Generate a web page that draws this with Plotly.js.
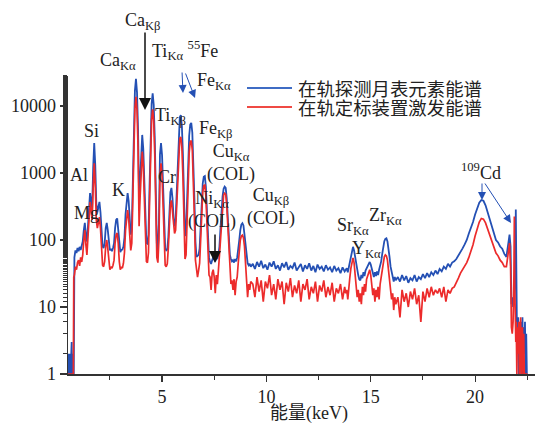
<!DOCTYPE html>
<html>
<head>
<meta charset="utf-8">
<script src="https://cdn.plot.ly/plotly-3.0.1.min.js"></script>
<style>html,body{margin:0;padding:0;background:#fff;overflow:hidden}#chart{width:535px;height:425px}</style>
</head>
<body>
<div id="chart"></div>
<script>
// ---- Energy channels (keV) ----
const energyStart = [0.49,0.51,0.53,0.55,0.57,0.59,0.61,0.63,0.65,0.67,0.69,0.71,0.73,0.75,0.77];
const energyLow = [
0.80,0.85,0.90,0.95,1.00,1.05,1.10,1.15,1.20,1.25,
1.30,1.35,1.40,1.45,1.50,1.55,1.60,1.65,1.70,1.75,
1.80,1.85,1.90,1.95,2.00,2.05,2.10,2.15,2.20,2.25,
2.30,2.35,2.40,2.45,2.50,2.55,2.60,2.65,2.70,2.75,
2.80,2.85,2.90,2.95,3.00,3.05,3.10,3.15,3.20,3.25,
3.30,3.35,3.40,3.45,3.50,3.55,3.60,3.65,3.70,3.75,
3.80,3.85,3.90,3.95,4.00,4.05,4.10,4.15,4.20,4.25,
4.30,4.35,4.40,4.45,4.50,4.55,4.60,4.65,4.70,4.75,
4.80,4.85,4.90,4.95,5.00,5.05,5.10,5.15,5.20,5.25,
5.30,5.35,5.40,5.45,5.50,5.55,5.60,5.65,5.70,5.75,
5.80,5.85,5.90,5.95,6.00,6.05,6.10,6.15,6.20,6.25,
6.30,6.35,6.40,6.45,6.50,6.55,6.60,6.65,6.70,6.75,
6.80,6.85,6.90,6.95,7.00,7.05,7.10,7.15,7.20,7.25,
7.30,7.35,7.40,7.45,7.50,7.55,7.60,7.65,7.70,7.75,
7.80,7.85,7.90,7.95,8.00,8.05,8.10,8.15,8.20,8.25,
8.30,8.35,8.40,8.45,8.50,8.55,8.60,8.65,8.70,8.75,
8.80,8.85,8.90,8.95,9.00,9.05,9.10,9.15,9.20,9.25];
const energyMid = [
9.35,9.45,9.55,9.65,9.75,9.85,9.95,10.05,10.15,10.25,
10.35,10.45,10.55,10.65,10.75,10.85,10.95,11.05,11.15,11.25,
11.35,11.45,11.55,11.65,11.75,11.85,11.95,12.05,12.15,12.25,
12.35,12.45,12.55,12.65,12.75,12.85,12.95,13.05,13.15,13.25,
13.35,13.45,13.55,13.65,13.75];
const energySrZr = [
13.80,13.85,13.90,13.95,14.00,14.05,14.10,14.15,14.20,14.25,
14.30,14.35,14.40,14.45,14.50,14.55,14.60,14.65,14.70,14.75,
14.80,14.85,14.90,14.95,15.00,15.05,15.10,15.15,15.20,15.25,
15.30,15.35,15.40,15.45,15.50,15.55,15.60,15.65,15.70,15.75,
15.80,15.85,15.90,15.95,16.00,16.05,16.10,16.15,16.20];
const energyHigh = [
16.3,16.4,16.5,16.6,16.7,16.8,16.9,17.0,17.1,17.2,
17.3,17.4,17.5,17.6,17.7,17.8,17.9,18.0,18.1,18.2,
18.3,18.4,18.5,18.6,18.7,18.8,18.9,19.0,19.1,19.2,
19.3,19.4,19.5,19.6,19.7,19.8,19.9,20.0,20.1,20.2,
20.3,20.4,20.5,20.6,20.7,20.8,20.9,21.0,21.1,21.2,
21.3,21.4,21.5];
const energyEnd = [21.55,21.60,21.65,21.70,21.74,21.78,21.82,21.86,21.88,21.90,21.93,21.95,21.97,22.00,22.03,22.06,22.09,22.12,22.15,22.18,22.21,22.24,22.27,22.30,22.33,22.36,22.39,22.42,22.45,22.48,22.51];

// ---- Counts: 在轨探测月表元素能谱 (blue) ----
const lunarStart = [2,1,2,1,2,1,2,1,2,3,1,2,1,1,1];
const lunarLow = [
55,70,64,76,68,79,71,82,95,140,
180,120,95,160,380,500,380,300,1200,2800,
1300,350,260,330,370,260,120,80,76,90,
150,180,140,85,70,74,68,76,90,150,
200,210,150,85,66,71,72,80,110,240,
420,500,380,200,120,150,700,5000,17000,25500,
16000,4500,430,800,2500,3700,2300,650,130,90,
88,120,620,3600,10800,15500,10500,3400,520,90,
68,180,1900,2800,1850,500,110,75,70,72,
110,280,520,600,420,220,160,200,500,1600,
4200,6800,7300,5000,1900,420,115,130,420,1400,
3600,5300,5600,4000,1700,420,95,56,58,60,
75,150,380,700,880,900,620,280,100,55,
47,44,50,55,52,48,55,52,60,80,
150,280,450,580,625,600,420,220,100,60,
52,48,50,46,52,48,55,70,100,140,
170,178,165,120,80,55,45,42,44,40];
const lunarMid = [
44,37,47,40,49,38,43,36,46,40,
48,37,42,35,45,39,47,36,41,38,
46,35,40,44,34,42,37,45,35,41,
33,43,37,40,34,42,36,39,33,41,
35,38,32,39,34];
const lunarSrZr = [
36,38,33,40,45,60,72,79,70,55,
42,34,30,26,25,30,27,33,29,35,
38,42,46,47,43,36,32,28,33,29,
34,30,36,40,48,62,80,96,104,106,
95,76,56,40,32,26,24,28,25];
const lunarHigh = [
28,24,30,25,29,23,27,25,30,24,
28,26,31,27,32,28,33,30,35,31,
37,34,40,37,44,40,46,48,52,58,
66,75,86,100,125,150,185,240,300,360,
395,385,330,260,190,150,125,100,92,80,
74,62,56];
const lunarEnd = [70,95,120,80,11,14,10,13,12,20,40,285,10,6,2,7,1,5,2,6,1,4,7,1,5,2,6,1,4,1,1];

// ---- Counts: 在轨定标装置激发能谱 (red) ----
const calibStart = [1,1,1,1,1,1,1,1,1,1,1,1,1,1,28];
const calibLow = [
30,40,36,46,50,41,55,47,60,100,
140,85,60,110,280,370,270,200,600,1400,
650,200,150,200,220,150,70,42,40,48,
80,100,75,45,36,40,38,42,50,90,
120,127,90,48,36,40,38,45,65,140,
240,280,210,120,70,90,380,2700,9200,13700,
8600,2400,160,450,1400,2080,1300,370,70,48,
46,65,360,2100,6200,8900,6000,1900,300,55,
46,100,950,1400,900,260,65,42,40,44,
75,190,340,390,280,160,125,140,300,850,
2100,3300,3450,2400,900,200,52,60,230,800,
2000,2900,3050,2200,900,220,50,32,28,35,
45,100,270,520,650,660,450,200,60,30,
28,18,32,36,28,16,30,22,35,60,
120,230,370,470,500,480,330,160,60,30,
22,25,18,26,15,24,28,45,70,100,
115,118,108,80,45,25,14,22,18,24];
const calibMid = [
22,14,28,17,25,12,24,19,30,15,
22,13,26,18,24,11,23,17,27,14,
21,16,25,12,22,18,26,13,20,16,
24,12,21,17,25,14,20,15,23,12,
19,16,22,13,20];
const calibSrZr = [
16,18,13,22,28,38,48,54,46,32,
22,14,18,12,16,11,20,15,22,17,
26,30,34,36,30,21,15,19,12,18,
14,20,13,22,28,38,48,56,60,58,
50,38,26,18,13,16,9,14,11];
const calibHigh = [
14,7,18,12,16,10,17,13,19,11,
15,6,17,12,19,14,20,15,18,16,
19,14,20,12,18,16,19,20,24,27,
32,36,40,46,55,68,85,115,150,185,
210,205,180,145,115,95,80,64,58,50,
46,40,40];
const calibEnd = [55,80,90,40,5,4,6,30,225,20,5,3,6,1,5,2,6,1,4,7,1,3,5,1,4,1,1,1,1,1,1];

const seriesNames = ['在轨探测月表元素能谱','在轨定标装置激发能谱'];
const xTitle = '能量(keV)';
const yTickVals = [1,10,100,1000,10000];
const yTickText = ['1','10','100','1000','10000'];

const energy = [].concat(energyStart, energyLow, energyMid, energySrZr, energyHigh, energyEnd);
const lunar = [].concat(lunarStart, lunarLow, lunarMid, lunarSrZr, lunarHigh, lunarEnd);
const calib = [].concat(calibStart, calibLow, calibMid, calibSrZr, calibHigh, calibEnd);

const BLUE = '#2450b4', RED = '#ec2b2b';
const SERIF = 'Liberation Serif, Times New Roman, Noto Sans CJK SC, serif';

const traces = [
  {x: energy, y: lunar, type: 'scatter', mode: 'lines', name: seriesNames[0], line: {color: BLUE, width: 1.8}, showlegend: false},
  {x: energy, y: calib, type: 'scatter', mode: 'lines', name: seriesNames[1], line: {color: RED, width: 1.7}, showlegend: false}
];

// plot area in pixels: left 68, right 535, top 76, bottom 374
const L = 68, R = 535, T = 76, B = 374;
const px = v => (v - L) / (R - L);
const py = v => (B - v) / (B - T);

function label(text, cx, cy, anchor) {
  return {text: text, xref: 'paper', yref: 'paper', x: px(cx), y: py(cy), xanchor: anchor || 'center', yanchor: 'middle',
          showarrow: false, font: {family: SERIF, size: 18, color: '#222'}};
}
function arrow(tipX, tipY, tailX, tailY, color, w, size) {
  return {text: '', xref: 'paper', yref: 'paper', x: px(tipX), y: py(tipY), ax: tailX - tipX, ay: tailY - tipY,
          showarrow: true, arrowhead: 2, arrowsize: size, arrowwidth: w, arrowcolor: color, standoff: 0, startstandoff: 0};
}

const annotations = [
  label('Ca<sub>Kβ</sub>', 143, 21),
  arrow(145, 110, 145, 31, '#111', 1.5, 1.6),
  label('Ti<sub>Kα</sub> <sup>55</sup>Fe', 150, 50, 'left'),
  label('Ca<sub>Kα</sub>', 118, 62),
  label('Fe<sub>Kα</sub>', 195, 82, 'left'),
  arrow(183, 93, 182, 71, BLUE, 1, 1.6),
  arrow(195, 98, 185, 72, BLUE, 1, 1.6),
  label('Ti<sub>Kβ</sub>', 153, 116, 'left'),
  label('Fe<sub>Kβ</sub>', 197, 129, 'left'),
  label('Si', 91, 131),
  label('Al', 79, 175),
  label('Cr', 167, 177),
  label('K', 118, 190),
  label('Mg', 86, 213),
  label('Cu<sub>Kα</sub><br>(COL)', 231, 163),
  label('Ni<sub>Kα</sub><br>(COL)', 212, 210),
  arrow(215, 263, 215, 233, '#111', 1.5, 1.6),
  label('Cu<sub>Kβ</sub><br>(COL)', 271, 207),
  label('Sr<sub>Kα</sub>', 353, 226),
  label('Y<sub>Kα</sub>', 366, 250),
  label('Zr<sub>Kα</sub>', 385, 216),
  label('<sup>109</sup>Cd', 481, 171),
  arrow(482, 200, 482, 182, BLUE, 1, 1.6),
  arrow(511, 223, 484, 182, BLUE, 1, 1.6),
  // x-axis title (placed like the reference, slightly right of the axis centre)
  {text: xTitle, xref: 'paper', yref: 'paper', x: px(309), y: py(413), xanchor: 'center', yanchor: 'middle', showarrow: false,
   font: {family: SERIF, size: 18, color: '#222'}},
  // legend texts
  {text: seriesNames[0], xref: 'paper', yref: 'paper', x: px(296), y: py(88), xanchor: 'left', yanchor: 'middle', showarrow: false,
   font: {family: 'Noto Sans CJK SC, sans-serif', size: 18.4, color: '#222'}},
  {text: seriesNames[1], xref: 'paper', yref: 'paper', x: px(296), y: py(107), xanchor: 'left', yanchor: 'middle', showarrow: false,
   font: {family: 'Noto Sans CJK SC, sans-serif', size: 18.4, color: '#222'}}
];

const shapes = [
  {type: 'line', xref: 'paper', yref: 'paper', x0: px(247), x1: px(292), y0: py(88), y1: py(88), line: {color: '#3f6cc4', width: 2}},
  {type: 'line', xref: 'paper', yref: 'paper', x0: px(247), x1: px(292), y0: py(107), y1: py(107), line: {color: '#ef4a44', width: 2}}
];

const layout = {
  width: 535, height: 425,
  margin: {l: L, r: 535 - R, t: T, b: 425 - B, pad: 0},
  paper_bgcolor: '#fff', plot_bgcolor: '#fff',
  showlegend: false,
  font: {family: SERIF, size: 18, color: '#222'},
  xaxis: {
    range: [(L - 57.7) / 20.87, (R - 57.7) / 20.87],
    showline: true, linecolor: '#333', linewidth: 1.5, mirror: false,
    showgrid: false, zeroline: false,
    ticks: 'outside', ticklen: 6, tickwidth: 1.2, tickcolor: '#333',
    tick0: 0, dtick: 5,
    minor: {ticks: 'outside', ticklen: 4, tickwidth: 1, tickcolor: '#333', dtick: 2.5, tick0: 0, showgrid: false},
    tickfont: {family: SERIF, size: 18, color: '#222'}
  },
  yaxis: {
    type: 'log', range: [0, (B - T) / 67],
    showline: true, linecolor: '#333', linewidth: 1.5,
    showgrid: false, zeroline: false,
    ticks: 'outside', ticklen: 7, tickwidth: 1.2, tickcolor: '#333',
    tickvals: yTickVals, ticktext: yTickText,
    minor: {ticks: 'outside', ticklen: 4, tickwidth: 1, tickcolor: '#333', showgrid: false},
    tickfont: {family: SERIF, size: 18, color: '#222'}
  },
  annotations: annotations,
  shapes: shapes
};

Plotly.newPlot('chart', traces, layout, {staticPlot: true, displayModeBar: false});
</script>
</body>
</html>
